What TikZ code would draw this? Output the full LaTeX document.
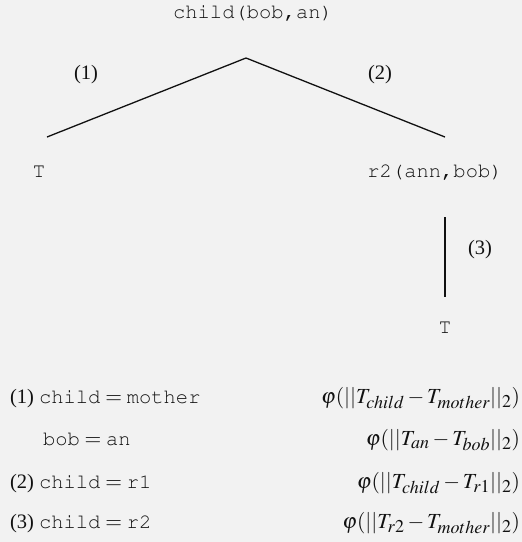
\documentclass[tikz,border=0pt]{standalone}
\usepackage{mathptmx}
\usepackage[no-math]{fontspec}
\setmainfont{Liberation Serif}
\newcommand\cour{\fontencoding{OT1}\fontfamily{pcr}\selectfont}
\DeclareMathSizes{20.5}{21.5}{18}{14}
\definecolor{bg}{HTML}{F2F2F2}
\definecolor{ink}{HTML}{111111}
\begin{document}
\begin{tikzpicture}[x=1pt,y=-1pt,
  every node/.style={inner sep=0pt,outer sep=0pt,text=ink,font=\fontsize{20.5}{24}\selectfont},
  mono/.style={font=\fontsize{20.5}{24}\selectfont\cour},
  edgeline/.style={draw=ink,line width=1.3pt},
  leftrow/.style={anchor=base west},
  rightrow/.style={anchor=base east}]
\fill[bg] (0,0) rectangle (522,542);
\useasboundingbox (0,0) rectangle (522,542);
% tree
\node[mono] (root) at (253,13) {child(bob,an)};
\coordinate (peak) at (246,58);
\coordinate (lend) at (47,137);
\coordinate (rend) at (445,137);
\draw[edgeline] (lend) -- (peak) -- (rend);
\node (l1) at (86,75) {(1)};
\node (l2) at (380,75) {(2)};
\node[mono] (tleft) at (39,172) {T};
\node[mono] (r2) at (435,172) {r2(ann,bob)};
\coordinate (vtop) at (445,217);
\coordinate (vbot) at (445,297);
\draw[edgeline] (vtop) -- (vbot);
\node (l3) at (480,250) {(3)};
\node[mono] (tright) at (445,328) {T};
% rows
\node[leftrow] (a1) at (10,403) {(1) {\cour child}${}={}${\cour mother}};
\node[leftrow] (a2) at (43,445) {{\cour bob}${}={}${\cour an}};
\node[leftrow] (a3) at (10,488) {(2) {\cour child}${}={}${\cour r1}};
\node[leftrow] (a4) at (10,528) {(3) {\cour child}${}={}${\cour r2}};
\node[rightrow] (b1) at (520,403) {$\varphi(||T_{child}-T_{mother}||_2)$};
\node[rightrow] (b2) at (520,445) {$\varphi(||T_{an}-T_{bob}||_2)$};
\node[rightrow] (b3) at (520,488) {$\varphi(||T_{child}-T_{r1}||_2)$};
\node[rightrow] (b4) at (520,528) {$\varphi(||T_{r2}-T_{mother}||_2)$};
\end{tikzpicture}
\end{document}
